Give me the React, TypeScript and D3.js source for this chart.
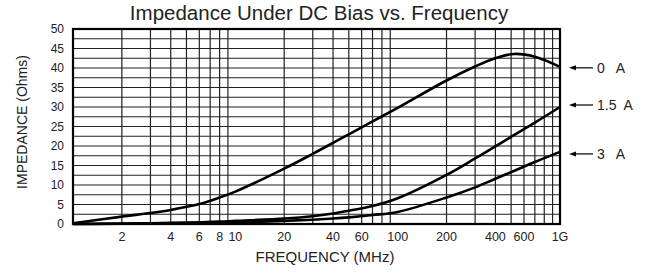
import * as d3 from "d3";
import React, { useRef, useEffect } from "react";

// frequency in MHz, impedance in Ohms
const freqs = [1, 2, 3, 4, 6, 8, 10, 20, 30, 40, 50, 70, 100, 200, 300, 400, 520, 700, 1000];
const ohms0A = [0.2, 1.9, 2.8, 3.6, 5.1, 6.8, 8.3, 14.2, 18, 20.8, 23, 26.3, 29.8, 36.8, 40.4, 42.5, 43.6, 42.9, 40.3];
const ohms15A = [0, 0.1, 0.2, 0.3, 0.45, 0.6, 0.8, 1.4, 2.0, 2.7, 3.4, 4.6, 6.6, 12.6, 16.8, 19.9, 22.8, 26, 30];
const ohms3A = [0, 0.05, 0.1, 0.15, 0.2, 0.3, 0.4, 0.8, 1.1, 1.4, 1.7, 2.3, 3.1, 6.8, 9.4, 11.6, 13.6, 15.9, 18.5];

const seriesNames = ["0   A", "1.5  A", "3   A"];
const xTickValues = [2, 4, 6, 8, 10, 20, 40, 60, 100, 200, 400, 600, 1000];
const yTickValues = [0, 5, 10, 15, 20, 25, 30, 35, 40, 45, 50];

const App = () => {
  const ref = useRef<SVGSVGElement>(null);

  useEffect(() => {
    const width = 652;
    const height = 275;
    const margin = { top: 29, right: 92, bottom: 51, left: 73 };
    const w = width - margin.left - margin.right;
    const h = height - margin.top - margin.bottom;

    const svg = d3.select(ref.current);
    svg.selectAll("*").remove();

    const g = svg.append("g").attr("transform", `translate(${margin.left},${margin.top})`);

    const xScale = d3.scaleLog().domain([1, 1000]).range([0, w]);
    const yScale = d3.scaleLinear().domain([0, 50]).range([h, 0]);

    // horizontal grid every 2.5
    const hLines = d3.range(2.5, 50, 2.5);
    g.append("g")
      .selectAll("line")
      .data(hLines)
      .join("line")
      .attr("x1", 0)
      .attr("x2", w)
      .attr("y1", (d) => yScale(d))
      .attr("y2", (d) => yScale(d))
      .attr("stroke", "#222")
      .attr("stroke-width", 1.2);

    // vertical grid
    const minor: number[] = [];
    [1, 10, 100].forEach((dec) => {
      for (let k = 2; k <= 9; k++) minor.push(dec * k);
    });
    g.append("g")
      .selectAll("line")
      .data(minor)
      .join("line")
      .attr("x1", (d) => xScale(d))
      .attr("x2", (d) => xScale(d))
      .attr("y1", 0)
      .attr("y2", h)
      .attr("stroke", (d) => (d === 10 || d === 100 ? "#000" : "#222"))
      .attr("stroke-width", (d) => (d === 10 || d === 100 ? 3 : 1.2));

    // border
    g.append("rect")
      .attr("x", 0)
      .attr("y", 0)
      .attr("width", w)
      .attr("height", h)
      .attr("fill", "none")
      .attr("stroke", "#000")
      .attr("stroke-width", 2.2);

    // curves
    const line = d3
      .line<number>()
      .x((d, i) => xScale(freqs[i]))
      .y((d) => yScale(d))
      .curve(d3.curveCatmullRom.alpha(0.5));

    [ohms0A, ohms15A, ohms3A].forEach((s) => {
      g.append("path")
        .datum(s)
        .attr("fill", "none")
        .attr("stroke", "#000")
        .attr("stroke-width", 2.6)
        .attr("d", line);
    });

    // tick labels
    g.append("g")
      .selectAll("text")
      .data(yTickValues)
      .join("text")
      .attr("x", -9)
      .attr("y", (d) => yScale(d) + 4)
      .attr("text-anchor", "end")
      .attr("font-size", 12)
      .text((d) => d);

    g.append("g")
      .selectAll("text")
      .data(xTickValues)
      .join("text")
      .attr("x", (d) => xScale(d))
      .attr("y", h + 17)
      .attr("text-anchor", "middle")
      .attr("font-size", 12.5)
      .text((d) => (d === 1000 ? "1G" : d));

    // series labels with arrows on the right
    const labelY = [yScale(ohms0A[ohms0A.length - 1]) + 1, yScale(30) - 2, yScale(19) + 4];
    seriesNames.forEach((name, i) => {
      const y = labelY[i];
      g.append("line")
        .attr("x1", w + 13)
        .attr("x2", w + 33)
        .attr("y1", y)
        .attr("y2", y)
        .attr("stroke", "#000")
        .attr("stroke-width", 1.2);
      g.append("path")
        .attr("d", `M${w + 9},${y} L${w + 16},${y - 2.5} L${w + 16},${y + 2.5} Z`)
        .attr("fill", "#000");
      g.append("text")
        .attr("x", w + 37)
        .attr("y", y + 5)
        .attr("font-size", 14)
        .attr("xml:space", "preserve")
        .style("white-space", "pre")
        .text(name);
    });

    // titles
    svg.append("text")
      .attr("x", 319)
      .attr("y", 20)
      .attr("text-anchor", "middle")
      .attr("font-size", 20.5)
      .text("Impedance Under DC Bias vs. Frequency");

    svg.append("text")
      .attr("x", 325)
      .attr("y", 262)
      .attr("text-anchor", "middle")
      .attr("font-size", 15)
      .text("FREQUENCY (MHz)");

    svg.append("text")
      .attr("transform", "translate(27,122) rotate(-90)")
      .attr("text-anchor", "middle")
      .attr("font-size", 14)
      .text("IMPEDANCE  (Ohms)");
  }, []);

  return (
    <svg
      ref={ref}
      width={652}
      height={275}
      style={{
        position: "absolute",
        left: 0,
        top: 0,
        background: "#fff",
        fontFamily: "'Liberation Sans', Arial, sans-serif",
        fill: "#222",
      }}
    />
  );
};

export default App;
